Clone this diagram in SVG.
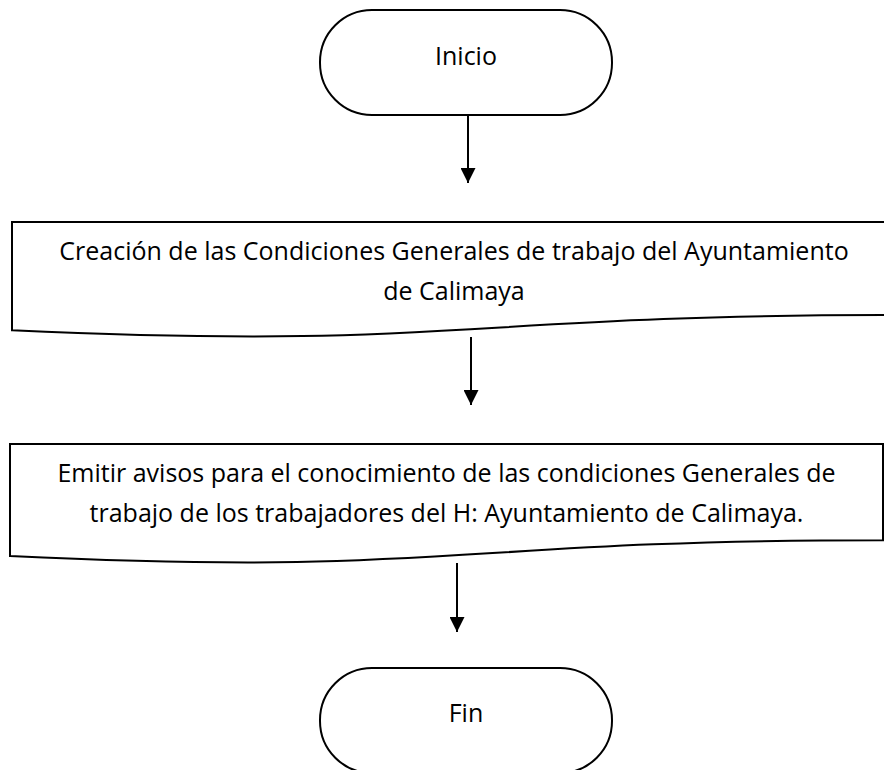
<svg xmlns="http://www.w3.org/2000/svg" width="884" height="770" viewBox="0 0 884 770">
<style>
.shape{fill:#fff;stroke:#000;stroke-width:2}
.lbl{font-family:"Open Sans","Noto Sans","Liberation Sans",sans-serif;font-size:25px;fill:#000;text-anchor:middle}
.conn{stroke:#000;stroke-width:2;fill:none}
</style>
<defs>
<marker id="ah" viewBox="0 0 15 15" refX="15" refY="7.5" markerWidth="15" markerHeight="15" markerUnits="userSpaceOnUse" orient="auto">
<path d="M0,0 L15,7.5 L0,15 Z" fill="#000"/>
</marker>
</defs>
<rect width="884" height="770" fill="#fff"/>
<g id="inicio">
<rect class="shape" x="320" y="10" width="292" height="105" rx="52" ry="52"/>
<text class="lbl" x="466" y="65">Inicio</text>
</g>
<g id="creacion">
<path class="shape" d="M12,222 L896,222 L896,315 C454,315 454,350.5 12,330.3 Z"/>
<text class="lbl" x="454" y="260">Creación de las Condiciones Generales de trabajo del Ayuntamiento</text>
<text class="lbl" x="454" y="300">de Calimaya</text>
</g>
<g id="emitir">
<path class="shape" d="M10,444 L883,444 L883,540.2 C446.5,540.2 446.5,577 10,556 Z"/>
<text class="lbl" x="446.5" y="482">Emitir avisos para el conocimiento de las condiciones Generales de</text>
<text class="lbl" x="446.5" y="522">trabajo de los trabajadores del H: Ayuntamiento de Calimaya.</text>
</g>
<g id="fin">
<rect class="shape" x="320" y="668" width="292" height="105" rx="52" ry="52"/>
<text class="lbl" x="466" y="722">Fin</text>
</g>
<g id="connectors">
<line class="conn" x1="468" y1="115" x2="468" y2="183" marker-end="url(#ah)"/>
<line class="conn" x1="471" y1="337" x2="471" y2="405" marker-end="url(#ah)"/>
<line class="conn" x1="457" y1="563" x2="457" y2="632" marker-end="url(#ah)"/>
</g>
</svg>
